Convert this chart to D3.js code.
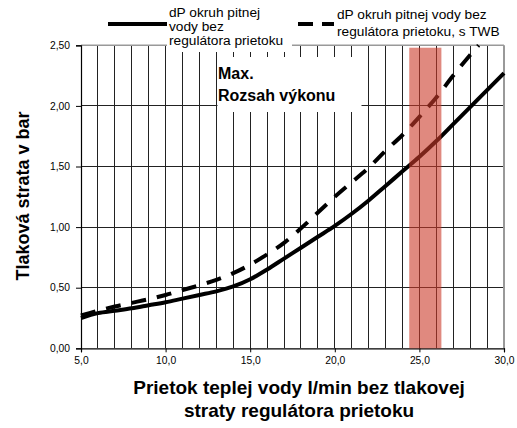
<!DOCTYPE html>
<html>
<head>
<meta charset="utf-8">
<script src="https://cdn.jsdelivr.net/npm/d3@7"></script>
<style>
  html, body { margin: 0; padding: 0; background: #fff; }
  svg text { font-family: "Liberation Sans", Arial, sans-serif; fill: #000; }
</style>
</head>
<body>
<svg id="chart" width="517" height="428"></svg>
<script>
// Flow rate (l/min) and pressure loss (bar) for both circuits
const flowSolid = [5, 6, 7, 8, 9, 10, 11, 12, 13, 14, 15, 16, 17, 18, 19, 20, 21, 22, 23, 24, 25, 26, 27, 28, 29, 30];
const lossSolid = [0.25, 0.29, 0.31, 0.33, 0.355, 0.38, 0.41, 0.44, 0.47, 0.51, 0.57, 0.65, 0.74, 0.83, 0.92, 1.01, 1.11, 1.22, 1.34, 1.46, 1.58, 1.71, 1.85, 1.99, 2.13, 2.27];

const flowDashed = [5, 6, 7, 8, 9, 10, 11, 12, 13, 14, 15, 16, 17, 18, 19, 20, 21, 22, 23, 24, 25, 26, 27, 28, 28.5];
const lossDashed = [0.27, 0.31, 0.345, 0.375, 0.405, 0.44, 0.48, 0.52, 0.565, 0.62, 0.69, 0.775, 0.87, 0.99, 1.12, 1.25, 1.37, 1.49, 1.63, 1.76, 1.91, 2.07, 2.25, 2.42, 2.5];

// Highlighted operating range
const bandRange = [24.4, 26.3];
const bandTop = 2.48;

const xTicks = [5, 10, 15, 20, 25, 30];
const yTicks = [0, 0.5, 1.0, 1.5, 2.0, 2.5];
const xGrid = d3.range(6, 30, 1);

const legendSolid = ["dP okruh pitnej", "vody bez", "regulátora prietoku"];
const legendDashed = ["dP okruh pitnej vody bez", "regulátora prietoku, s TWB"];
const boxText = ["Max.", "Rozsah výkonu"];
const xTitle = ["Prietok teplej vody l/min bez tlakovej", "straty regulátora prietoku"];
const yTitle = "Tlaková strata v bar";

const svg = d3.select("#chart");
const x = d3.scaleLinear().domain([5, 30]).range([81, 504]);
const y = d3.scaleLinear().domain([0, 2.5]).range([348.3, 45.3]);
const fmt = (v, d) => v.toFixed(d).replace(".", ",");

// grid
svg.append("g").selectAll("line").data(xGrid).join("line")
  .attr("x1", d => x(d)).attr("x2", d => x(d))
  .attr("y1", y(2.5)).attr("y2", y(0))
  .attr("stroke", "#222").attr("stroke-width", 1).attr("shape-rendering", "crispEdges");
svg.append("g").selectAll("line").data(yTicks.filter(d => d > 0 && d < 2.5)).join("line")
  .attr("x1", x(5)).attr("x2", x(30))
  .attr("y1", d => y(d)).attr("y2", d => y(d))
  .attr("stroke", "#222").attr("stroke-width", 1).attr("shape-rendering", "crispEdges");

// plot frame: grey top and right, black axes
svg.append("line").attr("x1", x(5)).attr("x2", x(30)).attr("y1", y(2.5)).attr("y2", y(2.5))
  .attr("stroke", "#999").attr("stroke-width", 1.5);
svg.append("line").attr("x1", x(30)).attr("x2", x(30)).attr("y1", y(2.5)).attr("y2", y(0))
  .attr("stroke", "#999").attr("stroke-width", 2);

// axes
const yAxis = d3.axisLeft(y).tickValues(yTicks).tickSize(5).tickFormat(d => fmt(d, 2));
const gy = svg.append("g").attr("transform", `translate(${x(5)},0)`).call(yAxis);
const xAxis = d3.axisBottom(x).tickValues(xTicks).tickSize(4).tickFormat(d => fmt(d, 1));
const gx = svg.append("g").attr("transform", `translate(0,${y(0)})`).call(xAxis);
[gx, gy].forEach(g => {
  g.selectAll("path.domain").attr("stroke", "#000").attr("stroke-width", 1.2);
  g.selectAll(".tick line").attr("stroke", "#000");
  g.selectAll(".tick text").attr("font-size", 10.3).attr("font-family", "Liberation Sans, Arial, sans-serif");
});
gy.selectAll(".tick text").attr("x", -11);
gx.selectAll(".tick text").attr("y", 8);

// white backgrounds of the legend and the label box
svg.append("rect").attr("x", 167).attr("y", 0).attr("width", 125).attr("height", 52).attr("fill", "#fff");
svg.append("rect").attr("x", 217.5).attr("y", 57).attr("width", 144).attr("height", 55).attr("fill", "#fff");

// curves
const line = d3.line().x(d => x(d[0])).y(d => y(d[1])).curve(d3.curveMonotoneX);
svg.append("path").datum(d3.zip(flowSolid, lossSolid)).attr("d", line)
  .attr("fill", "none").attr("stroke", "#000").attr("stroke-width", 4);
svg.append("path").datum(d3.zip(flowDashed, lossDashed)).attr("d", line)
  .attr("fill", "none").attr("stroke", "#000").attr("stroke-width", 4)
  .attr("stroke-dasharray", "15,11");

// highlighted band
svg.append("rect")
  .attr("x", x(bandRange[0])).attr("width", x(bandRange[1]) - x(bandRange[0]))
  .attr("y", y(bandTop)).attr("height", y(0) - y(bandTop))
  .attr("fill", "#cc3a2a").attr("fill-opacity", 0.6);

// label box text
svg.append("g").selectAll("text").data(boxText).join("text")
  .attr("x", 218).attr("y", (d, i) => 79 + i * 22)
  .attr("font-size", 16).attr("font-weight", "bold").text(d => d);

// legend
svg.append("line").attr("x1", 108).attr("x2", 167).attr("y1", 24).attr("y2", 24)
  .attr("stroke", "#000").attr("stroke-width", 4);
svg.append("g").selectAll("text").data(legendSolid).join("text")
  .attr("x", 169).attr("y", (d, i) => 17 + i * 14)
  .attr("font-size", 13.7).text(d => d);
svg.append("line").attr("x1", 298).attr("x2", 334).attr("y1", 24).attr("y2", 24)
  .attr("stroke", "#000").attr("stroke-width", 4).attr("stroke-dasharray", "15,9");
svg.append("g").selectAll("text").data(legendDashed).join("text")
  .attr("x", 337).attr("y", (d, i) => 19 + i * 17)
  .attr("font-size", 13.7).text(d => d);

// axis titles
svg.append("g").selectAll("text").data(xTitle).join("text")
  .attr("x", 299).attr("y", (d, i) => 394 + i * 23)
  .attr("text-anchor", "middle").attr("font-size", 19).attr("font-weight", "bold").text(d => d);
svg.append("text")
  .attr("transform", "translate(29,196) rotate(-90)")
  .attr("text-anchor", "middle").attr("font-size", 18).attr("font-weight", "bold").text(yTitle);
</script>
</body>
</html>
